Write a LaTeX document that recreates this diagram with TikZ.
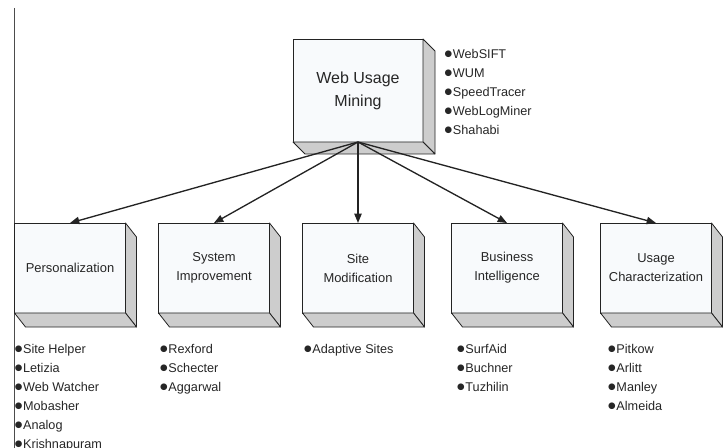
\documentclass[tikz,border=0pt]{standalone}
\usepackage{fontspec}
\setmainfont{Liberation Sans}
\newfontfamily\symfont{DejaVu Sans}
\usetikzlibrary{arrows.meta,positioning,calc}
\definecolor{facewhite}{RGB}{248,250,252}
\definecolor{sidegray}{RGB}{205,205,205}
\definecolor{edgegray}{RGB}{35,35,35}

% round list bullet
\newcommand{\itb}{\raisebox{1.3pt}{\symfont\fontsize{6.5}{6.5}\selectfont ●}\hspace{0.6pt}}

% shaded right and bottom faces of a box node
\newcommand{\sidefaces}[3]{%
  \filldraw[side] (#1.north east) -- ++(#2,#3) -- ($(#1.south east)+(#2,#3)$) -- (#1.south east) -- cycle;
  \filldraw[side] (#1.south west) -- (#1.south east) -- ($(#1.south east)+(#2,#3)$) -- ($(#1.south west)+(#2,#3)$) -- cycle;}

\begin{document}
\begin{tikzpicture}[
  x=0.75pt, y=-0.75pt,
  box/.style={rectangle, draw=edgegray, fill=facewhite, line width=0.6pt, outer sep=0pt, minimum width=83.25pt, minimum height=67.5pt, align=center, text=black!85, font=\fontsize{9.7}{14.3}\selectfont},
  topbox/.style={box, minimum width=97.5pt, minimum height=77.25pt, font=\fontsize{12}{17.3}\selectfont},
  side/.style={draw=edgegray, fill=sidegray, line width=0.6pt, line join=round},
  items/.style={inner sep=0pt, align=left, text=black!85, font=\fontsize{9.5}{14.25}\selectfont},
  arrow/.style={-{Triangle[length=7pt,width=5.5pt]}, line width=1pt, edgegray},
  rule/.style={draw=black!70, line width=0.75pt}
]
\useasboundingbox (0,0) rectangle (723,448);
\draw[rule] (14,8) -- (14,448);

\node[topbox] (wum) at (358,90.5) {Web Usage\\ Mining};
\node[box, below=60.75pt of wum] (sitemod) {Site\\ Modification};
\node[box, left=24.75pt of sitemod] (sysimp) {System\\ Improvement};
\node[box, left=24.75pt of sysimp] (perso) {Personalization};
\node[box, right=28.5pt of sitemod] (busint) {Business\\ Intelligence};
\node[box, right=28.5pt of busint] (usage) {Usage\\ Characterization};

\sidefaces{wum}{12}{12}
\sidefaces{perso}{11}{14}
\sidefaces{sysimp}{11}{14}
\sidefaces{sitemod}{11}{14}
\sidefaces{busint}{11}{14}
\sidefaces{usage}{11}{14}

\node[items, below right=7.5pt and 16pt of wum.north east] (wumtools) {\itb WebSIFT\\ \itb WUM\\ \itb SpeedTracer\\ \itb WebLogMiner\\ \itb Shahabi};
\node[items, below right=23pt and 0pt of perso.south west] (persotools) {\itb Site Helper\\ \itb Letizia\\ \itb Web Watcher\\ \itb Mobasher\\ \itb Analog\\ \itb Krishnapuram};
\node[items, below right=23pt and 1pt of sysimp.south west] (systools) {\itb Rexford\\ \itb Schecter\\ \itb Aggarwal};
\node[items, below right=23pt and 1pt of sitemod.south west] (sitetools) {\itb Adaptive Sites};
\node[items, below right=23pt and 4pt of busint.south west] (bitools) {\itb SurfAid\\ \itb Buchner\\ \itb Tuzhilin};
\node[items, below right=23pt and 5.5pt of usage.south west] (usagetools) {\itb Pitkow\\ \itb Arlitt\\ \itb Manley\\ \itb Almeida};

\draw[arrow] (wum.south) -- (perso.north);
\draw[arrow] (wum.south) -- (sysimp.north);
\draw[arrow] (wum.south) -- (sitemod.north);
\draw[arrow] (wum.south) -- (busint.north);
\draw[arrow] (wum.south) -- (usage.north);
\end{tikzpicture}
\end{document}
